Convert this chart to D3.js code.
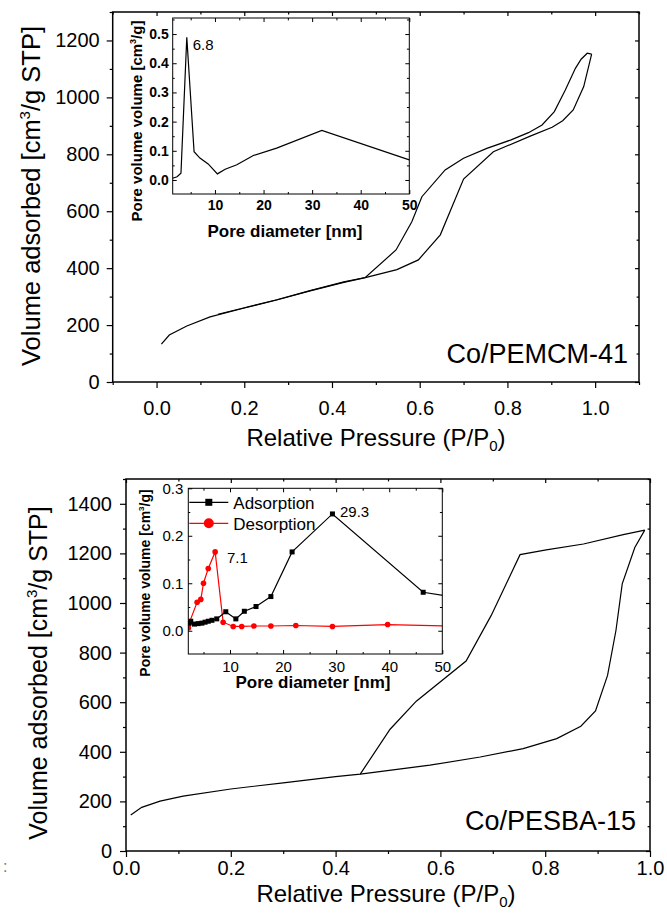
<!DOCTYPE html>
<html><head><meta charset="utf-8">
<script src="https://cdn.jsdelivr.net/npm/d3@7"></script>
<style>body{margin:0;background:#fff} text{font-family:"Liberation Sans",Arial,sans-serif;fill:#000}</style>
</head><body>
<svg id="c" width="667" height="913"></svg>
<script>
// ---------- DATA ----------
// Co/PEMCM-41 isotherm
const pemAdsP = [0.011,0.029,0.069,0.122,0.198,0.274,0.350,0.427,0.476,0.548,0.597,0.647,0.700,0.768,0.852,0.902,0.926,0.950,0.974,0.992];
const pemAdsV = [133,165,197,229,259,288,320,350,367,395,429,517,713,809,864,895,918,956,1038,1152];
const pemDesP = [0.992,0.982,0.968,0.955,0.932,0.907,0.879,0.848,0.807,0.753,0.700,0.658,0.605,0.582,0.546,0.476,0.427,0.350,0.274,0.198,0.140];
const pemDesV = [1152,1155,1134,1102,1026,950,903,876,850,821,786,745,651,563,464,367,352,321,289,260,238];
// Co/PEMCM-41 pore size distribution (inset)
const pemPoreD = [1.3,2.2,3.0,4.2,5.7,6.9,8.6,10.5,12.1,14.5,17.9,22.7,32.0,50];
const pemPoreV = [0.006,0.011,0.023,0.489,0.097,0.075,0.055,0.021,0.037,0.052,0.084,0.109,0.170,0.069];
// Co/PESBA-15 isotherm
const sbaAdsP = [0.009,0.030,0.065,0.109,0.200,0.300,0.400,0.447,0.580,0.676,0.758,0.822,0.868,0.896,0.919,0.935,0.947,0.971,0.990];
const sbaAdsV = [145,176,201,221,250,275,300,310,346,379,413,453,503,565,708,889,1077,1224,1294];
const sbaDesP = [0.990,0.949,0.873,0.802,0.752,0.697,0.649,0.554,0.504,0.447];
const sbaDesV = [1294,1276,1238,1214,1195,950,766,604,491,310];
// Co/PESBA-15 pore size distribution (inset)
const sbaAdsD = [2.3,2.6,3.3,4.0,4.7,5.3,5.9,6.6,7.5,9.2,11.1,12.7,14.9,17.7,21.7,29.3,46.4,55];
const sbaAdsPV = [0.016,0.020,0.014,0.015,0.016,0.018,0.020,0.022,0.025,0.040,0.025,0.041,0.051,0.072,0.166,0.246,0.081,0.066];
const sbaDesD = [2.15,2.3,3.8,4.5,5.0,5.9,7.2,8.7,10.6,12.2,14.5,17.7,22.4,29.3,39.7,55];
const sbaDesPV = [0.006,0.016,0.060,0.066,0.100,0.131,0.166,0.018,0.009,0.009,0.010,0.010,0.011,0.009,0.013,0.009];

// ticks
const topXMajor = [0,0.2,0.4,0.6,0.8,1.0], topXMinor = [-0.1,0.1,0.3,0.5,0.7,0.9,1.1];
const topYMajor = [0,200,400,600,800,1000,1200], topYMinor = [100,300,500,700,900,1100,1300];
const botXMajor = [0,0.2,0.4,0.6,0.8,1.0], botXMinor = [0.1,0.3,0.5,0.7,0.9];
const botYMajor = [0,200,400,600,800,1000,1200,1400], botYMinor = [100,300,500,700,900,1100,1300,1500];
const insXMajor = [10,20,30,40,50], insXMinor = [5,15,25,35,45];
const ins1YMajor = [0,0.1,0.2,0.3,0.4,0.5], ins1YMinor = [0.05,0.15,0.25,0.35,0.45,0.55];
const ins2YMajor = [0,0.1,0.2,0.3], ins2YMinor = [0.05,0.15,0.25];

const svg = d3.select("#c");
const zip = (a,b)=>a.map((v,i)=>[v,b[i]]);

function frameAxes(g, x, y, o){
  const [x0,x1]=x.range(), [y0,y1]=y.range();
  const fmt1 = d3.format(".1f");
  const b = g.append("g").attr("transform",`translate(0,${y0})`);
  b.call(d3.axisBottom(x).tickValues(o.xMajor).tickSize(o.tMaj).tickPadding(o.xPad).tickFormat(o.xFmt||fmt1));
  b.append("g").call(d3.axisBottom(x).tickValues(o.xMinor).tickSize(o.tMin).tickFormat(""));
  const l = g.append("g").attr("transform",`translate(${x0},0)`);
  l.call(d3.axisLeft(y).tickValues(o.yMajor).tickSize(o.tMaj).tickPadding(o.yPad).tickFormat(o.yFmt||d3.format("d")));
  l.append("g").call(d3.axisLeft(y).tickValues(o.yMinor).tickSize(o.tMin).tickFormat(""));
  const t = g.append("g").attr("transform",`translate(0,${y1})`);
  t.call(d3.axisBottom(x).tickValues(o.xMajor).tickSize(o.tIn).tickFormat(""));
  t.append("g").call(d3.axisBottom(x).tickValues(o.xMinor).tickSize(o.tIn*0.6).tickFormat(""));
  const r = g.append("g").attr("transform",`translate(${x1},0)`);
  r.call(d3.axisLeft(y).tickValues(o.yMajor).tickSize(o.tIn).tickFormat(""));
  r.append("g").call(d3.axisLeft(y).tickValues(o.yMinor).tickSize(o.tIn*0.6).tickFormat(""));
  g.selectAll(".domain").remove();
  g.selectAll(".tick line").attr("stroke","#000").attr("stroke-width",o.tw||1.2);
  g.selectAll(".tick text").attr("font-size",o.fs).attr("font-weight",o.fw||"normal").attr("fill","#000")
    .style("font-family","'Liberation Sans',Arial,sans-serif");
  g.append("rect").attr("x",x0).attr("y",y1).attr("width",x1-x0).attr("height",y0-y1)
    .attr("fill","none").attr("stroke","#000").attr("stroke-width",o.fw2||1.5);
}

function yTitle(g, cx, cy, fs, weight, parts){
  const t = g.append("text").attr("transform",`translate(${cx+0.35*fs},${cy}) rotate(-90)`)
    .attr("text-anchor","middle").attr("font-size",fs).attr("font-weight",weight);
  parts(t);
}

// ===== TOP CHART =====
{
  const g = svg.append("g");
  const x = d3.scaleLinear().domain([-0.1,1.1]).range([112.7,639]);
  const y = d3.scaleLinear().domain([0,1300]).range([382,12]);
  const line = d3.line().x(d=>x(d[0])).y(d=>y(d[1]));
  g.append("path").attr("d",line(zip(pemAdsP,pemAdsV))).attr("fill","none").attr("stroke","#000").attr("stroke-width",1.2);
  g.append("path").attr("d",line(zip(pemDesP,pemDesV))).attr("fill","none").attr("stroke","#000").attr("stroke-width",1.2);
  frameAxes(g,x,y,{xMajor:topXMajor,xMinor:topXMinor,yMajor:topYMajor,yMinor:topYMinor,tMaj:6,tMin:3,tIn:4,xPad:13,yPad:7,fs:20});
  const xt = g.append("text").attr("x",376).attr("y",446).attr("text-anchor","middle").attr("font-size",24);
  xt.append("tspan").text("Relative Pressure (P/P");
  xt.append("tspan").attr("font-size",15).attr("dy",5).text("0");
  xt.append("tspan").attr("dy",-5).text(")");
  yTitle(g,31,196,25.5,"normal",t=>{
    t.append("tspan").text("Volume adsorbed [cm");
    t.append("tspan").attr("font-size",15).attr("dy",-10).text("3");
    t.append("tspan").attr("dy",10).text("/g STP]");
  });
  g.append("text").attr("x",628).attr("y",363).attr("text-anchor","end").attr("font-size",27).text("Co/PEMCM-41");

  const ix = d3.scaleLinear().domain([1.3,50]).range([172.7,409.3]);
  const iy = d3.scaleLinear().domain([-0.048,0.555]).range([194,18]);
  const ig = g.append("g");
  ig.append("rect").attr("x",172.7).attr("y",18).attr("width",409.3-172.7).attr("height",194-18).attr("fill","#fff");
  const il = d3.line().x(d=>ix(d[0])).y(d=>iy(d[1]));
  ig.append("path").attr("d",il(zip(pemPoreD,pemPoreV))).attr("fill","none").attr("stroke","#000").attr("stroke-width",1.2);
  frameAxes(ig,ix,iy,{xMajor:insXMajor,xMinor:insXMinor,yMajor:ins1YMajor,yMinor:ins1YMinor,tMaj:-4,tMin:-2,tIn:4,xPad:6,yPad:4,fs:14,fw:"bold",xFmt:d3.format("d"),yFmt:d3.format(".1f"),fw2:1,tw:1});
  ig.append("text").attr("x",192.7).attr("y",50).attr("font-size",15).text("6.8");
  ig.append("text").attr("x",285).attr("y",237).attr("text-anchor","middle").attr("font-size",17).attr("font-weight","bold").text("Pore diameter [nm]");
  yTitle(ig,137,121,15,"bold",t=>{
    t.append("tspan").text("Pore volume volume [cm");
    t.append("tspan").attr("font-size",9).attr("dy",-6).text("3");
    t.append("tspan").attr("dy",6).text("/g]");
  });
}

// ===== BOTTOM CHART =====
{
  const g = svg.append("g");
  const x = d3.scaleLinear().domain([0,1]).range([126,650]);
  const y = d3.scaleLinear().domain([0,1500]).range([851,479]);
  const line = d3.line().x(d=>x(d[0])).y(d=>y(d[1]));
  g.append("path").attr("d",line(zip(sbaAdsP,sbaAdsV))).attr("fill","none").attr("stroke","#000").attr("stroke-width",1.2);
  g.append("path").attr("d",line(zip(sbaDesP,sbaDesV))).attr("fill","none").attr("stroke","#000").attr("stroke-width",1.2);
  frameAxes(g,x,y,{xMajor:botXMajor,xMinor:botXMinor,yMajor:botYMajor,yMinor:botYMinor,tMaj:6,tMin:3,tIn:4,xPad:4,yPad:8,fs:20});
  const xt = g.append("text").attr("x",386).attr("y",902).attr("text-anchor","middle").attr("font-size",24);
  xt.append("tspan").text("Relative Pressure (P/P");
  xt.append("tspan").attr("font-size",15).attr("dy",5).text("0");
  xt.append("tspan").attr("dy",-5).text(")");
  yTitle(g,38,673,25,"normal",t=>{
    t.append("tspan").text("Volume adsorbed [cm");
    t.append("tspan").attr("font-size",15).attr("dy",-10).text("3");
    t.append("tspan").attr("dy",10).text("/g STP]");
  });
  g.append("text").attr("x",636).attr("y",830).attr("text-anchor","end").attr("font-size",27).text("Co/PESBA-15");
  g.append("text").attr("x",3).attr("y",872).attr("font-size",16).style("fill","#777").text(":");

  const X0=188.3,X1=442.3,Y0=654,Y1=488.3;
  const ix = d3.scaleLinear().domain([2.14,50]).range([X0,X1]);
  const iy = d3.scaleLinear().domain([-0.049,0.3]).range([Y0,Y1]);
  const ig = g.append("g");
  ig.append("rect").attr("x",X0).attr("y",Y1).attr("width",X1-X0).attr("height",Y0-Y1).attr("fill","#fff");
  svg.append("defs").append("clipPath").attr("id","ic").append("rect").attr("x",X0).attr("y",Y1).attr("width",X1-X0).attr("height",Y0-Y1);
  const dg = ig.append("g").attr("clip-path","url(#ic)");
  const il = d3.line().x(d=>ix(d[0])).y(d=>iy(d[1]));
  const ads = zip(sbaAdsD,sbaAdsPV), des = zip(sbaDesD,sbaDesPV);
  dg.append("path").attr("d",il(des)).attr("fill","none").attr("stroke","#f00").attr("stroke-width",1.2);
  dg.selectAll("circle.d").data(des).enter().append("circle").attr("cx",d=>ix(d[0])).attr("cy",d=>iy(d[1])).attr("r",2.8).attr("fill","#f00");
  dg.append("path").attr("d",il(ads)).attr("fill","none").attr("stroke","#000").attr("stroke-width",1.2);
  dg.selectAll("rect.a").data(ads).enter().append("rect").attr("x",d=>ix(d[0])-2.5).attr("y",d=>iy(d[1])-2.5).attr("width",5).attr("height",5).attr("fill","#000");
  frameAxes(ig,ix,iy,{xMajor:insXMajor,xMinor:insXMinor,yMajor:ins2YMajor,yMinor:ins2YMinor,tMaj:-4,tMin:-2,tIn:4,xPad:7,yPad:5,fs:15,xFmt:d3.format("d"),yFmt:d3.format(".1f"),fw2:1,tw:1});
  ig.append("line").attr("x1",189.3).attr("x2",228.3).attr("y1",502.3).attr("y2",502.3).attr("stroke","#000").attr("stroke-width",1.2);
  ig.append("rect").attr("x",205.3).attr("y",498.8).attr("width",7).attr("height",7).attr("fill","#000");
  ig.append("text").attr("x",233.3).attr("y",508.5).attr("font-size",17).text("Adsorption");
  ig.append("line").attr("x1",189.3).attr("x2",228.3).attr("y1",523.3).attr("y2",523.3).attr("stroke","#f00").attr("stroke-width",1.2);
  ig.append("circle").attr("cx",208.8).attr("cy",523.3).attr("r",5).attr("fill","#f00");
  ig.append("text").attr("x",233.3).attr("y",529.5).attr("font-size",17).text("Desorption");
  ig.append("text").attr("x",227).attr("y",563).attr("font-size",15).text("7.1");
  ig.append("text").attr("x",340).attr("y",517).attr("font-size",15).text("29.3");
  ig.append("text").attr("x",313).attr("y",688).attr("text-anchor","middle").attr("font-size",17).attr("font-weight","bold").text("Pore diameter [nm]");
  yTitle(ig,145,583,14,"bold",t=>{
    t.append("tspan").text("Pore volume volume [cm");
    t.append("tspan").attr("font-size",8).attr("dy",-6).text("3");
    t.append("tspan").attr("dy",6).text("/g]");
  });
}
</script>
</body></html>
